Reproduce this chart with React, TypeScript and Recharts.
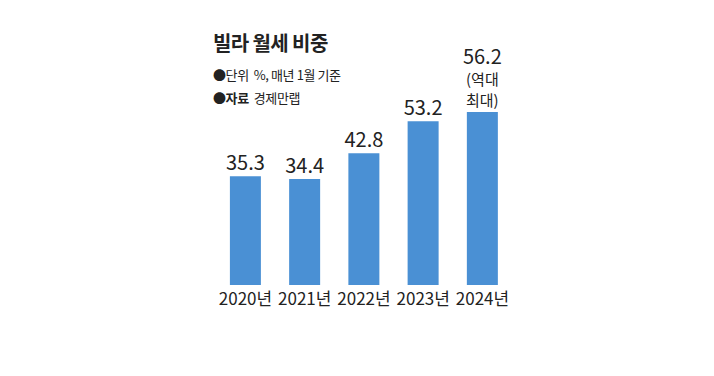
import React from 'react';
import { BarChart, Bar, XAxis, YAxis, LabelList } from 'recharts';

const categories = ['2020년', '2021년', '2022년', '2023년', '2024년'];
const values = [35.3, 34.4, 42.8, 53.2, 56.2];
const notes = ['', '', '', '', '(역대|최대)'];

const data = categories.map((c, i) => ({ name: c, value: values[i], note: notes[i] }));

const FONT = '"Noto Sans CJK KR", "Noto Sans", sans-serif';
const TEXT = '#222';

const ValueLabel = (props: any) => {
  const { x, y, width, value, index } = props;
  const cx = x + width / 2;
  const note = notes[index] ? notes[index].split('|') : [];
  const lines = [String(value), ...note];
  const lh = 21;
  const lastBase = y - 6;
  return (
    <text textAnchor="middle" fill={TEXT} fontFamily={FONT}>
      {lines.map((l, i) => (
        <tspan
          key={i}
          x={cx}
          y={lastBase - (lines.length - 1 - i) * lh}
          fontSize={i === 0 ? 20 : 15}
        >
          {l}
        </tspan>
      ))}
    </text>
  );
};

export default function App() {
  return (
    <div style={{ position: 'absolute', left: 0, top: 0, width: 714, height: 376, background: '#fff', fontFamily: FONT, color: TEXT }}>
      <div style={{ position: 'absolute', left: 213, top: 28, fontSize: 20, fontWeight: 700, whiteSpace: 'nowrap', letterSpacing: -0.6 }}>
        빌라 월세 비중
      </div>
      <div style={{ position: 'absolute', left: 213, top: 65, fontSize: 13, whiteSpace: 'nowrap', letterSpacing: -0.4 }}>
        ●단위 &nbsp;%, 매년 1월 기준
      </div>
      <div style={{ position: 'absolute', left: 213, top: 88, fontSize: 13, whiteSpace: 'nowrap', letterSpacing: -0.4 }}>
        ●<b>자료</b> &nbsp;경제만랩
      </div>
      <BarChart
        width={714}
        height={376}
        data={data}
        margin={{ top: 100.2, right: 201.9, bottom: 0, left: 215.9 }}
        barSize={31}
      >
        <YAxis hide domain={[0, 60]} />
        <XAxis
          dataKey="name"
          height={91}
          axisLine={false}
          tickLine={false}
          tick={{ fill: TEXT, fontSize: 17, fontFamily: FONT }}
          interval={0}
        />
        <Bar dataKey="value" fill="#4a90d4" isAnimationActive={false}>
          <LabelList dataKey="value" content={ValueLabel} />
        </Bar>
      </BarChart>
    </div>
  );
}
